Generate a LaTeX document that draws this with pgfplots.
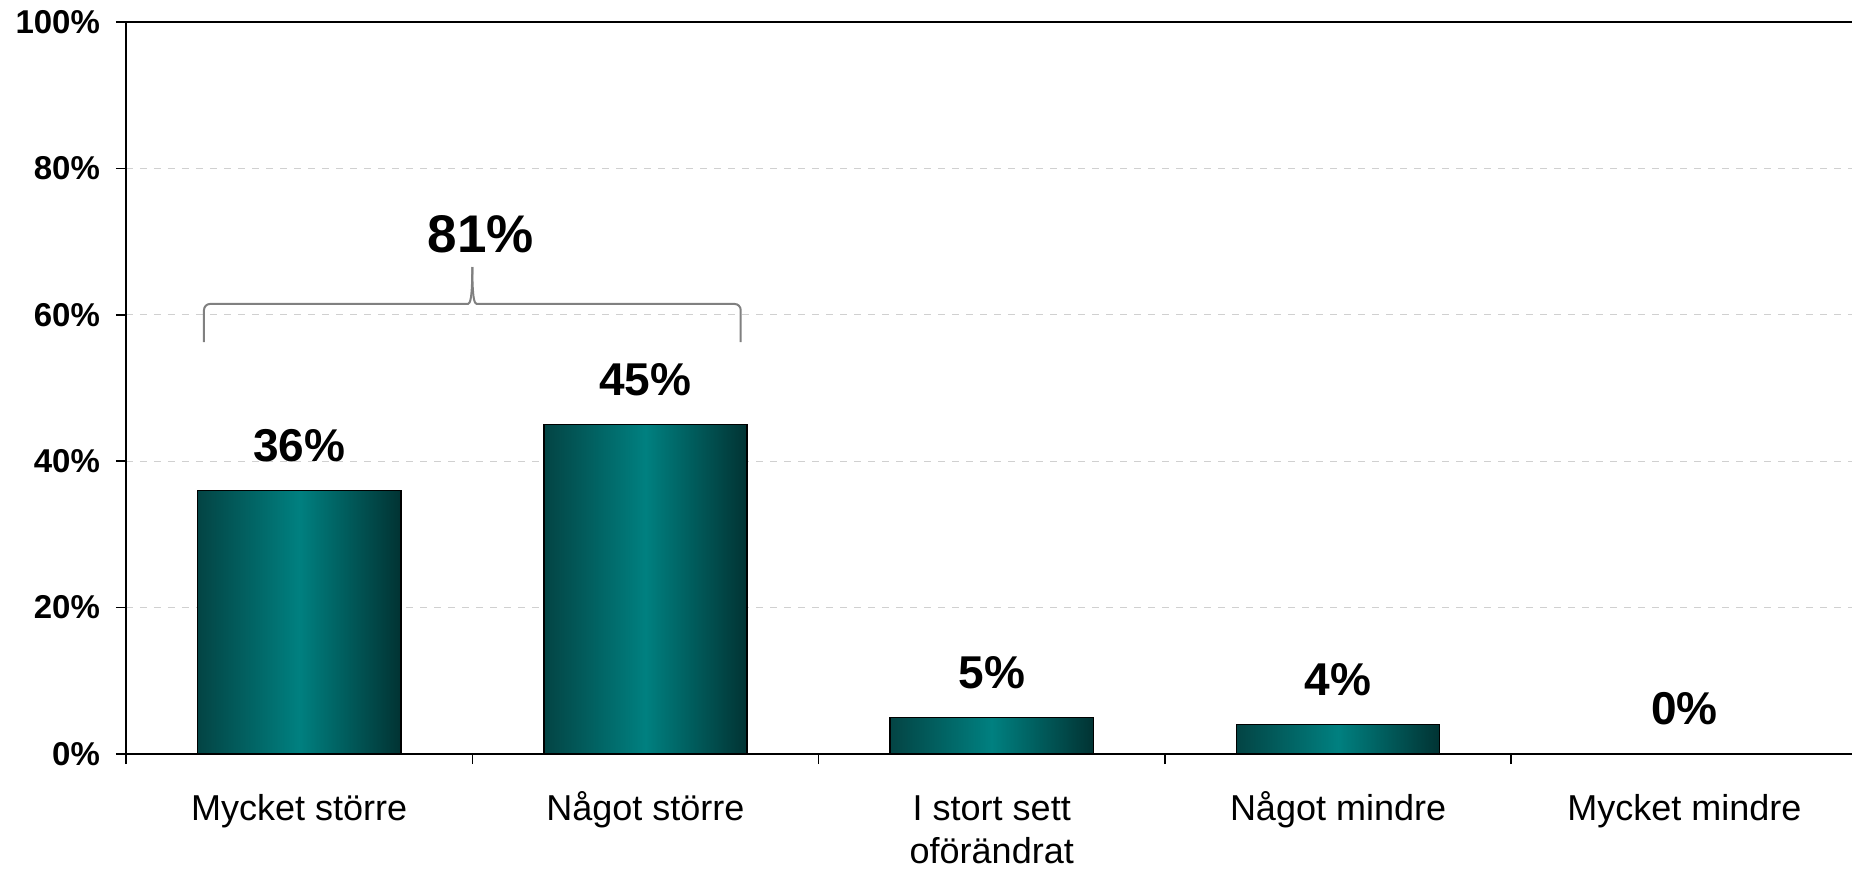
\documentclass[border=0pt]{standalone}
\usepackage{pgfplots}
\pgfplotsset{compat=1.18}
\usepackage{fontspec}
\setmainfont{Liberation Sans}
\definecolor{barL}{HTML}{034444}
\definecolor{barM}{HTML}{008080}
\definecolor{barR}{HTML}{013333}
\definecolor{gridc}{HTML}{D0D0D0}
\definecolor{bracec}{HTML}{808080}
\pgfplotsset{
  tealbar/.style={ybar, bar width=0.587, draw=black, line width=0.75pt,
    left color=barL, right color=barR, middle color=barM}
}
\begin{document}
\begin{tikzpicture}
\useasboundingbox (-63pt,-57pt) rectangle (863pt,377pt);
\begin{axis}[
  at={(0pt,0pt)}, anchor=south west,
  scale only axis, width=865.75pt, height=366pt,
  xmin=-0.5, xmax=4.5, ymin=0, ymax=100,
  axis x line=box, axis y line=left,
  axis line style={-, line width=1pt, black},
  x axis line style={-}, y axis line style={-},
  ytick={0,20,40,60,80,100},
  yticklabels={0\%,20\%,40\%,60\%,80\%,100\%},
  tick align=outside, major tick length=5pt,
  ymajorgrids,
  major grid style={gridc, line width=0.5pt, dash pattern=on 3.5pt off 3.5pt},
  xtick={0,1,2,3,4},
  xticklabels={\strut Mycket större, \strut Något större, {\strut I stort sett\\oförändrat}, \strut Något mindre, \strut Mycket mindre},
  xtick pos=bottom,
  major x tick style={draw=none},
  minor xtick={-0.5,0.5,1.5,2.5,3.5,4.5},
  minor tick length=5pt,
  minor x tick style={black, line width=0.75pt},
  tick style={black, line width=0.75pt},
  yticklabel style={font=\fontsize{16.5}{18}\selectfont\bfseries, xshift=-4.5pt},
  xticklabel style={font=\fontsize{18}{21.5}\selectfont, align=center, anchor=north, yshift=-9.6pt},
  nodes near coords={\pgfmathprintnumber[assume math mode=true]{\pgfplotspointmeta}\%},
  nodes near coords style={font=\fontsize{23}{26}\selectfont\bfseries, anchor=center, yshift=22.5pt, black},
  clip=false,
]
\addplot[tealbar] coordinates {(0,36)};
\addplot[tealbar] coordinates {(1,45)};
\addplot[tealbar] coordinates {(2,5)};
\addplot[tealbar] coordinates {(3,4)};
\addplot[ybar, bar width=0.587, draw=none, fill=none] coordinates {(4,0)};
\node[font=\fontsize{26.5}{30}\selectfont\bfseries] at (axis cs:0.525,71.04) {81\%};
\draw[bracec, line width=1pt, rounded corners=3pt]
  (axis cs:-0.2748,56.28) -- (axis cs:-0.2748,61.48) -- (axis cs:0.47,61.48)
  .. controls (axis cs:0.494,61.48) and (axis cs:0.5,62.3) .. (axis cs:0.5,66.53);
\draw[bracec, line width=1pt, rounded corners=3pt]
  (axis cs:1.275,56.28) -- (axis cs:1.275,61.48) -- (axis cs:0.53,61.48)
  .. controls (axis cs:0.506,61.48) and (axis cs:0.5,62.3) .. (axis cs:0.5,66.53);
\end{axis}
\end{tikzpicture}
\end{document}
